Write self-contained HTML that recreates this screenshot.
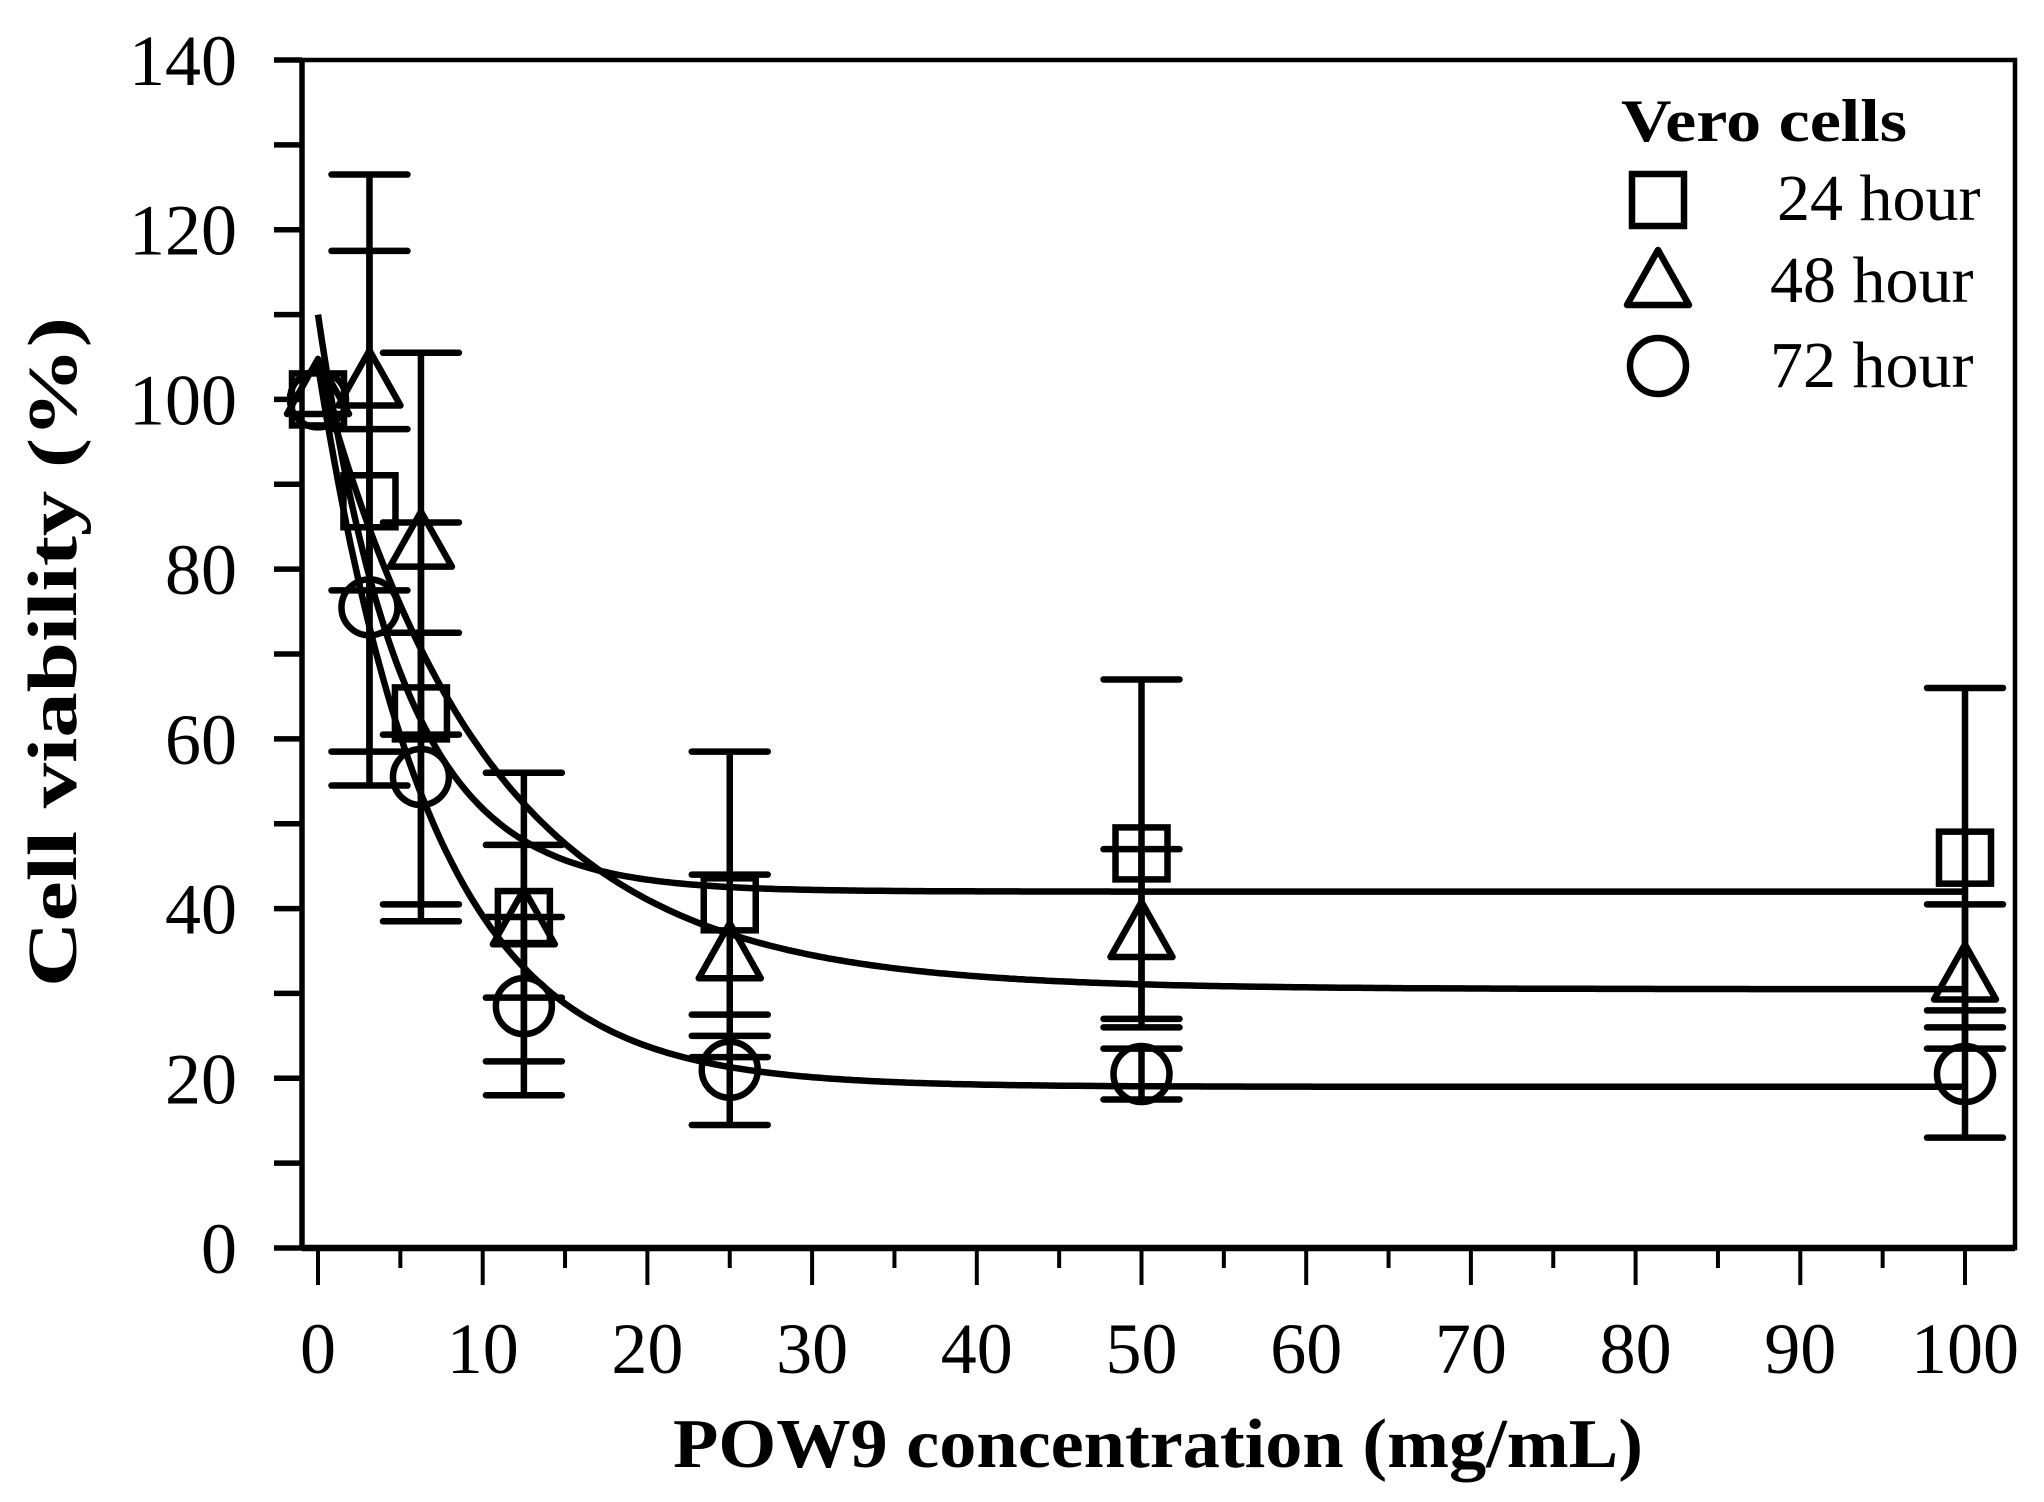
<!DOCTYPE html>
<html><head><meta charset="utf-8">
<style>
html,body{margin:0;padding:0;background:#fff;}
svg{display:block;}
text{font-family:"Liberation Serif",serif;fill:#000;}
</style></head>
<body>
<svg id="chart" width="2044" height="1502" viewBox="0 0 2044 1502" xmlns="http://www.w3.org/2000/svg"></svg>
<script>
const xTicks = [0,10,20,30,40,50,60,70,80,90,100];
const yTicks = [0,20,40,60,80,100,120,140];
const concentrations = [0,3.125,6.25,12.5,25,50,100];
const mean24 = [100,88,63,39,40.5,46.5,46];
const err24  = [0,29.5,22.5,17,18,20.5,20];
const mean48 = [101,102,83,38.5,34.5,37,32];
const err48  = [0,24.5,22.5,9,9.5,10,8.5];
const mean72 = [100,75.5,55.5,28.5,21,20.5,20.5];
const err72  = [0,21,17,10.5,6.5,3,7.5];
// exponential fit params: plateau, amplitude, rate
const fit24 = [42,68,0.194];
const fit48 = [30.5,73.5,0.097];
const fit72 = [19,85,0.144];

const NS='http://www.w3.org/2000/svg';
const svg=document.getElementById('chart');
const X0=318,X1=1965,PL=302,PR=2015,PT=60,PB=1248;
const xs=v=>X0+v*(X1-X0)/100;
const ys=v=>PB-v*(PB-PT)/140;
function mk(tag,attrs,parent){const e=document.createElementNS(NS,tag);for(const k in attrs)e.setAttribute(k,attrs[k]);(parent||svg).appendChild(e);return e;}
const SW=6.5;

const frame=mk('g',{});


mk('rect',{x:PL,y:PT,width:PR-PL,height:PB-PT,fill:'none',stroke:'#000','stroke-width':4.5},frame);
mk('line',{x1:PL,y1:PB,x2:PR,y2:PB,stroke:'#000','stroke-width':6.5},frame);
mk('line',{x1:PL,y1:PT,x2:PL,y2:PB,stroke:'#000','stroke-width':5.5},frame);

const yAxis=mk('g',{});


for(let v=0;v<=140;v+=10){
  mk('line',{x1:274,y1:ys(v),x2:PL,y2:ys(v),stroke:'#000','stroke-width':5.5},yAxis);
}
yTicks.forEach(v=>{
  const t=mk('text',{x:237,y:ys(v)+25,'font-size':72,'text-anchor':'end'},yAxis);
  
  
  t.textContent=v;
});
const xAxis=mk('g',{});


for(let v=0;v<=100;v+=5){
  const major=v%10===0;
  mk('line',{x1:xs(v),y1:PB,x2:xs(v),y2:PB+(major?37:20),stroke:'#000','stroke-width':4},xAxis);
}
xTicks.forEach(v=>{
  const t=mk('text',{x:xs(v),y:1373,'font-size':72,'text-anchor':'middle'},xAxis);
  
  
  t.textContent=v;
});
const xt=mk('text',{x:1158,y:1467,'font-size':70,'font-weight':'bold','text-anchor':'middle',textLength:970,lengthAdjust:'spacingAndGlyphs'});


xt.textContent='POW9 concentration (mg/mL)';
const yt=mk('text',{x:0,y:0,'font-size':70,'font-weight':'bold','text-anchor':'middle',textLength:670,lengthAdjust:'spacingAndGlyphs',transform:'translate(76,652) rotate(-90)'});


yt.textContent='Cell viability (%)';

function curve(p,name){
  let d='';
  for(let v=0;v<=100;v+=0.25){const y=p[0]+p[1]*Math.exp(-p[2]*v);d+=(d?'L':'M')+xs(v).toFixed(1)+','+ys(y).toFixed(1);}
  const e=mk('path',{d:d,fill:'none',stroke:'#000','stroke-width':SW});
  
  
}
curve(fit24,'fit-curve-24h');
curve(fit48,'fit-curve-48h');
curve(fit72,'fit-curve-72h');

function marker(shape,cx,cy,g){
  if(shape==='square') return mk('rect',{x:cx-26,y:cy-26,width:52,height:52,fill:'none',stroke:'#000','stroke-width':SW},g);
  if(shape==='triangle') return mk('polygon',{points:`${cx},${cy-32} ${cx+31},${cy+23} ${cx-31},${cy+23}`,fill:'none',stroke:'#000','stroke-width':SW,'stroke-linejoin':'round'},g);
  return mk('circle',{cx:cx,cy:cy,r:28,fill:'none',stroke:'#000','stroke-width':SW},g);
}
function series(means,errs,shape,name){
  const g=mk('g',{});
  
  
  concentrations.forEach((c,i)=>{
    const x=xs(c);
    if(errs[i]>0){
      const hi=ys(means[i]+errs[i]),lo=ys(means[i]-errs[i]);
      const eb=mk('g',{},g);
      
      
      mk('line',{x1:x,y1:hi,x2:x,y2:lo,stroke:'#000','stroke-width':SW},eb);
      mk('line',{x1:x-38,y1:hi,x2:x+38,y2:hi,stroke:'#000','stroke-width':SW,'stroke-linecap':'round'},eb);
      mk('line',{x1:x-38,y1:lo,x2:x+38,y2:lo,stroke:'#000','stroke-width':SW,'stroke-linecap':'round'},eb);
    }
    const m=marker(shape,x,ys(means[i]),g);
    
    
  });
}
series(mean24,err24,'square','series-24h');
series(mean48,err48,'triangle','series-48h');
series(mean72,err72,'circle','series-72h');

const lg=mk('g',{});


const lt=mk('text',{x:1621,y:141,'font-size':60,'font-weight':'bold',textLength:286,lengthAdjust:'spacingAndGlyphs'},lg);


lt.textContent='Vero cells';
const legendEntries=[['square','24 hour',200,220],['triangle','48 hour',282,302],['circle','72 hour',366,387]];
legendEntries.forEach(e=>{
  const ge=mk('g',{},lg);
  
  
  marker(e[0],1658,e[2],ge);
  const t=mk('text',{x:e[1]==='24 hour'?1777:1770,y:e[3],'font-size':66},ge);
  t.textContent=e[1];
});
</script>
</body></html>
